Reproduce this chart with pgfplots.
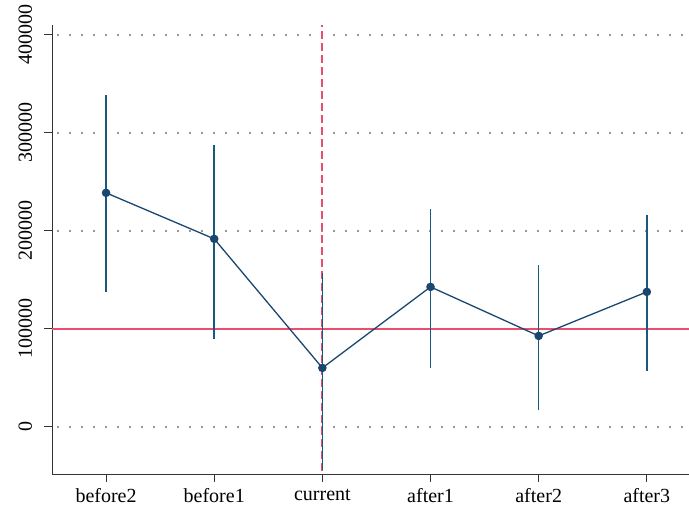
\documentclass[border=0pt]{standalone}
\usepackage{pgfplots}
\pgfplotsset{compat=1.18}
\usepackage{fontspec}
\setmainfont{Liberation Serif}
\definecolor{navy}{RGB}{26,71,111}
\definecolor{redl}{RGB}{234,78,108}
\begin{document}
\fontsize{20}{24}\selectfont
\begin{tikzpicture}
\begin{axis}[
  scale only axis, width=637pt, height=449pt,
  at={(0pt,0pt)}, anchor=south west,
  xmin=-0.5, xmax=5.39, ymin=-48000, ymax=410000,
  axis x line*=bottom, axis y line*=left,
  axis line style={-, line width=0.9pt, black!80},
  xtick={0,...,5},
  xticklabels={before2,before1,current,after1,after2,after3},
  ytick={0,100000,200000,300000,400000},
  scaled y ticks=false,
  yticklabel style={xshift=-5pt, rotate=90, anchor=south, /pgf/number format/fixed, /pgf/number format/1000 sep={}},
  /pgf/number format/assume math mode=true,
  tick align=outside, major tick length=8pt,
  tick style={black!80, line width=0.9pt},
  ymajorgrids, grid style={black!40, line width=1.5pt, dash pattern=on 1.5pt off 10.5pt, dash phase=-5pt},
  tick label style={font=\fontsize{20}{24}\selectfont},
  clip=false,
]
\addplot[redl, line width=1.7pt, forget plot] coordinates {(-0.5,100000) (5.39,100000)};
\addplot[redl, line width=1.8pt, dash pattern=on 8pt off 4pt, forget plot] coordinates {(2,-45000) (2,410000)};
\addplot[navy, line width=1.3pt, mark=*, mark size=3.6pt, mark options={fill=navy},
  error bars/.cd, y dir=both, y explicit, error mark=none,
  error bar style={line width=1.5pt, navy!90!cyan}]
  table[x=x, y=y, y error plus=ep, y error minus=em] {
x y ep em
0 238776 100000 101021
1 191837 95918 102041
2 60204 96939 104082
3 142857 79592 82653
4 92857 72449 75510
5 137755 78572 80612
};
\end{axis}
\pgfresetboundingbox
\path[use as bounding box] (-52pt,-36pt) rectangle (637pt,474pt);
\end{tikzpicture}
\end{document}
